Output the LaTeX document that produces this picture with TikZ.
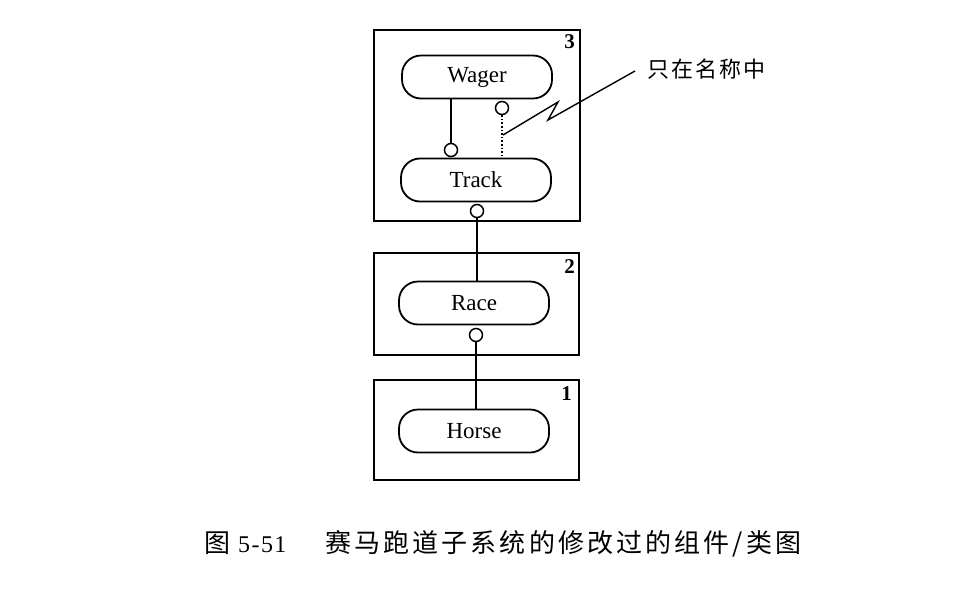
\documentclass[tikz,border=0pt]{standalone}
\usepackage{fontspec}
\setmainfont{Liberation Serif}
\newfontfamily\cjk[LetterSpace=9]{Noto Sans CJK SC}
\newfontfamily\capcjk[LetterSpace=12]{Noto Sans CJK SC}
\newfontfamily\capnum[LetterSpace=6]{Liberation Serif}
\begin{document}
\begin{tikzpicture}[x=1pt,y=-1pt,
  cls/.style={draw,line width=1.8pt,rounded corners=19pt,minimum width=150pt,minimum height=43pt,inner sep=0pt,font=\fontsize{23}{24}\selectfont},
  pkg/.style={draw,line width=1.3pt,inner sep=0pt},
  num/.style={font=\bfseries\fontsize{21}{21}\selectfont,anchor=north east,inner sep=0pt},
  ball/.style={draw,line width=1.5pt,circle,fill=white,minimum size=13pt,inner sep=0pt},
  link/.style={line width=1.6pt},
  txt/.style={inner sep=0pt,anchor=base west}]
\useasboundingbox (0,0) rectangle (976,590);
% packages
\node[pkg,minimum width=206pt,minimum height=191pt] (p3) at (477,125.5) {};
\node[pkg,minimum width=205pt,minimum height=102pt] (p2) at (476.5,304) {};
\node[pkg,minimum width=205pt,minimum height=100pt] (p1) at (476.5,430) {};
\node[num] (n3) at (575,34) {3};
\node[num] (n2) at (575,259) {2};
\node[num] (n1) at (572,386) {1};
% classes
\node[cls] (wager) at (477,77) {Wager};
\node[cls] (track) at (476,180) {Track};
\node[cls] (race) at (474,303) {Race};
\node[cls] (horse) at (474,431) {Horse};
% connectors
\coordinate (wl) at (451,98);
\node[ball] (b1) at (451,150) {};
\draw[link] (wl) -- (b1.north);
\node[ball] (b2) at (502,108) {};
\coordinate (tr) at (502,158);
\draw[link,dotted] (b2.south) -- (tr);
\node[ball] (b3) at (477,211) {};
\draw[link] (b3.south) -- (race.north -| b3);
\node[ball] (b4) at (476,335) {};
\draw[link] (b4.south) -- (horse.north -| b4);
% note
\node[txt,font=\cjk\fontsize{22}{22}\selectfont] (note) at (647,77) {只在名称中};
\coordinate (z0) at (635,71);
\coordinate (z1) at (548,120);
\coordinate (z2) at (558,102);
\coordinate (z3) at (503,135);
\draw[line width=1.4pt] (z0) -- (z1) -- (z2) -- (z3);
% caption
\node[txt,font=\capcjk\fontsize{26}{26}\selectfont] (cap1) at (204,552) {图};
\node[txt,font=\capnum\fontsize{24}{24}\selectfont] (cap2) at (238,552) {5-51};
\node[txt,font=\capcjk\fontsize{26}{26}\selectfont] (cap3) at (325,552) {赛马跑道子系统的修改过的组件/类图};
\end{tikzpicture}
\end{document}
